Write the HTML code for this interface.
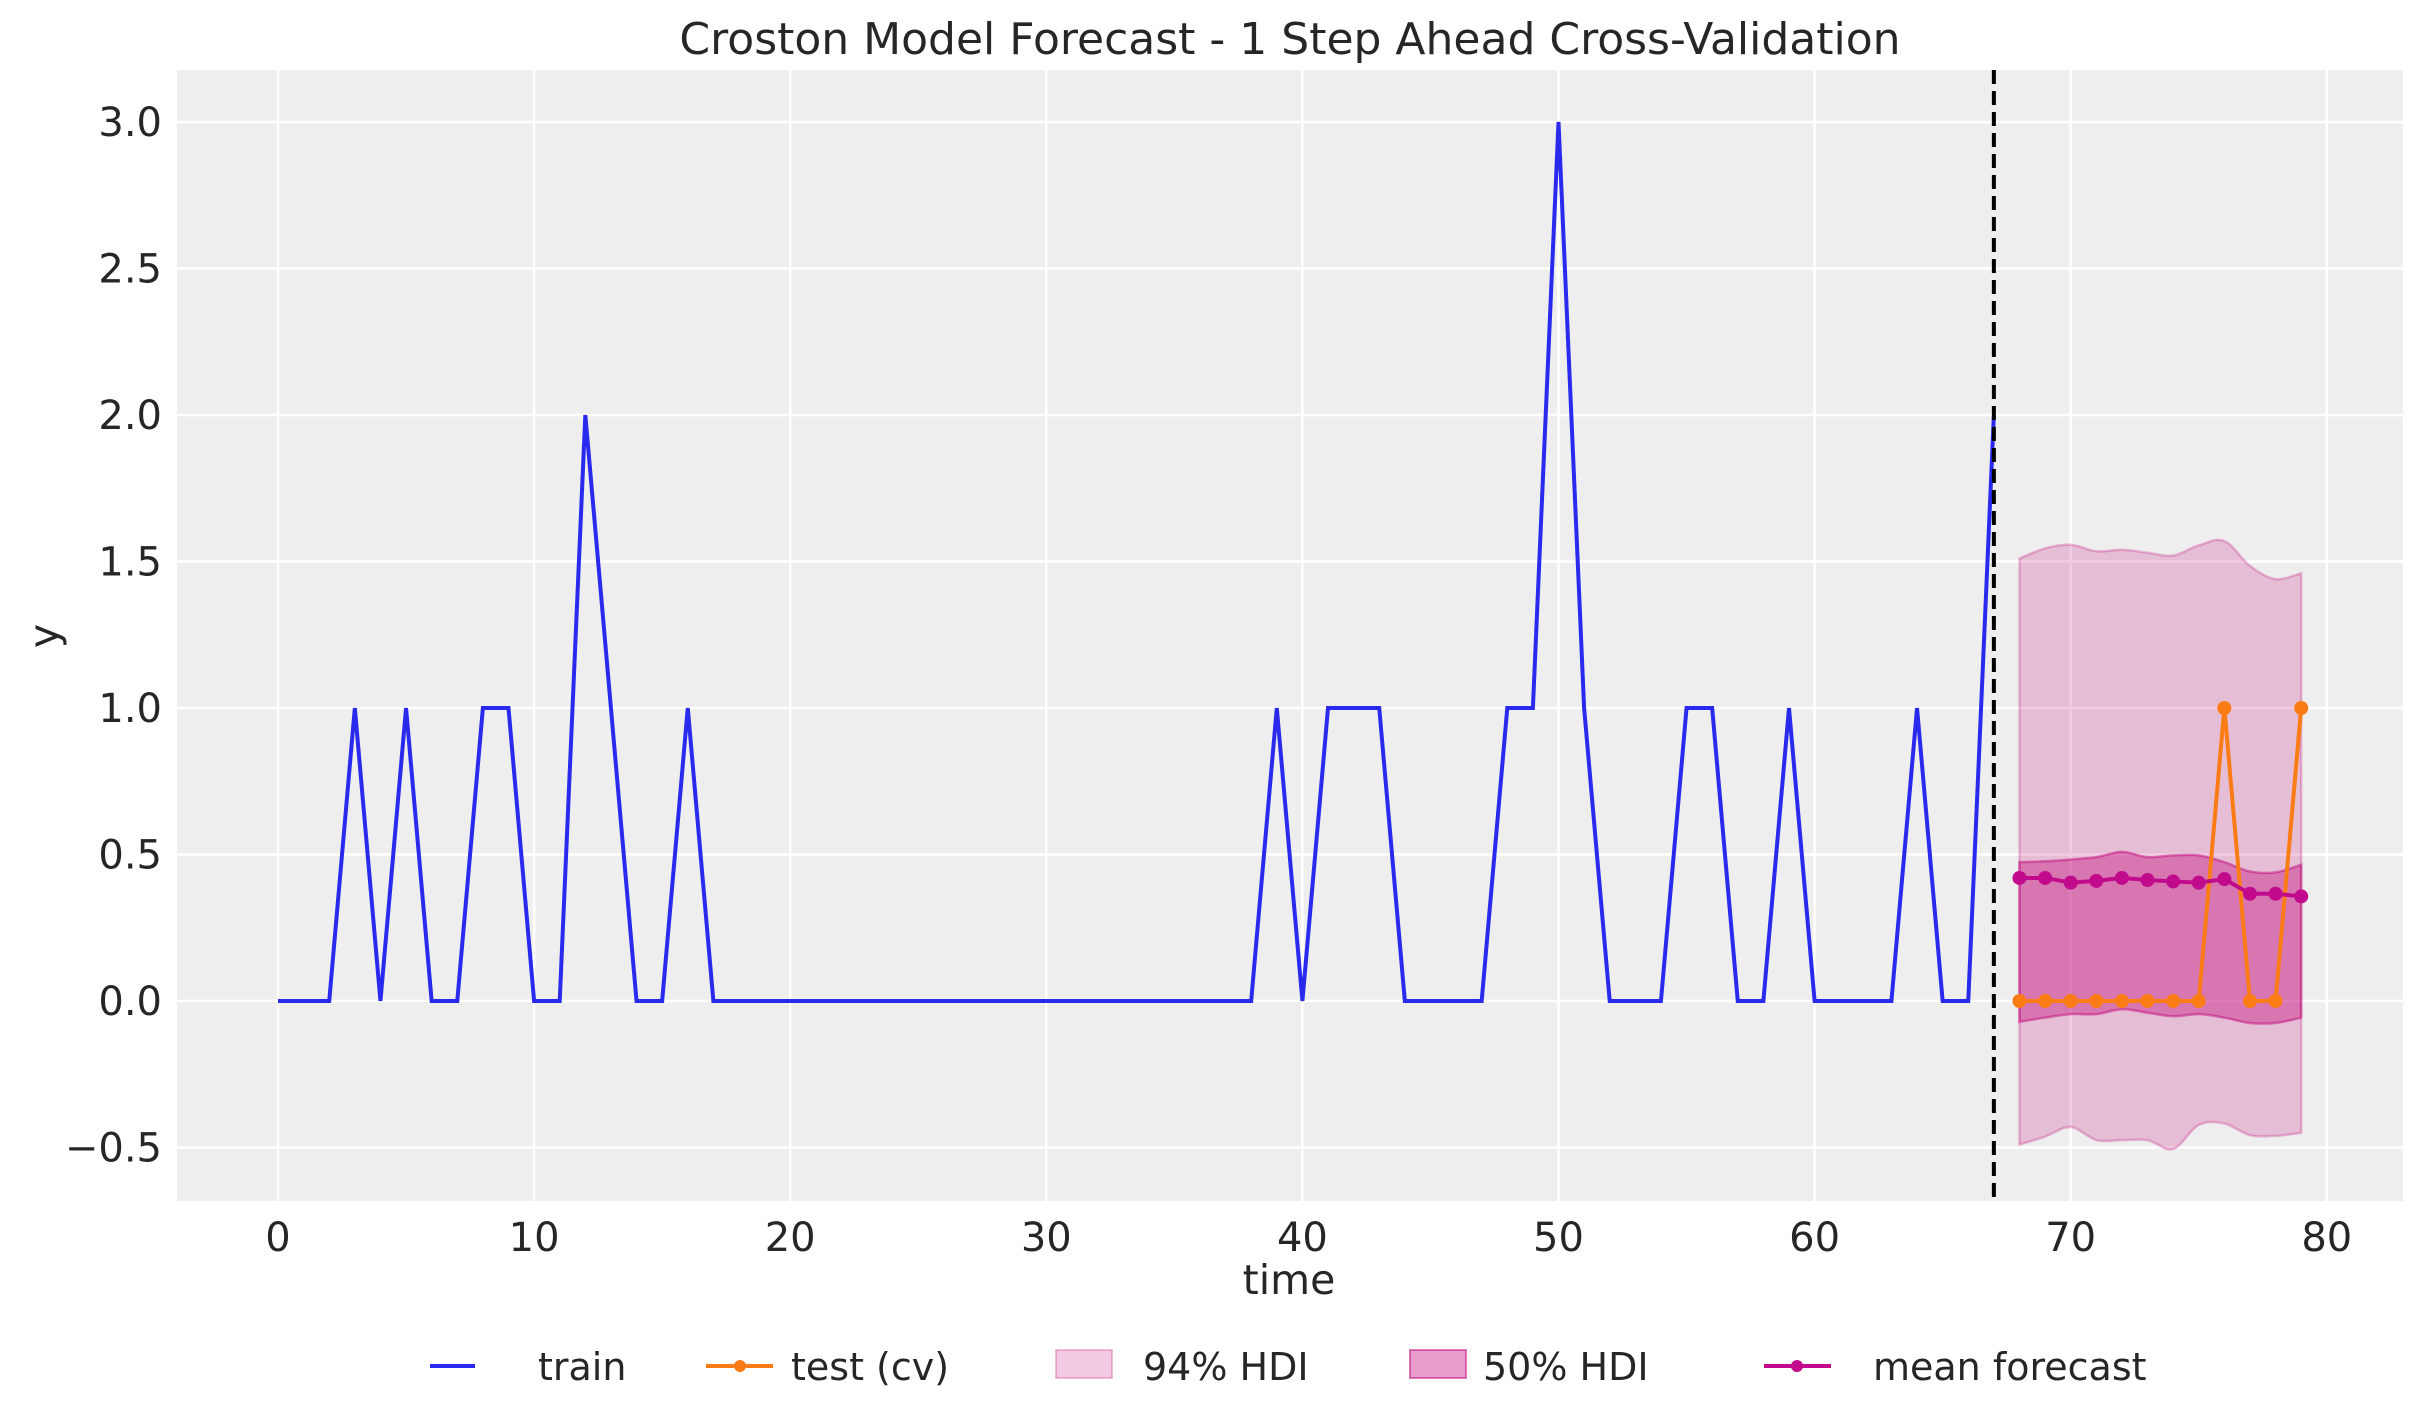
<!DOCTYPE html>
<html><head><meta charset="utf-8">
<style>
html,body{margin:0;padding:0;background:#fff;}
svg{display:block;font-family:"DejaVu Sans","Liberation Sans",sans-serif;}
</style></head>
<body>
<svg id="chart" width="2423" height="1423" viewBox="0 0 2423 1423" xmlns="http://www.w3.org/2000/svg">
<text x="1290" y="54" font-size="44" text-anchor="middle" fill="#262626">Croston Model Forecast - 1 Step Ahead Cross-Validation</text>
<rect x="177" y="70" width="2226" height="1131" fill="#eeeeee"/>
<g id="grid"></g>
<g id="ticks"></g>
<g id="series"></g>
<text x="1289" y="1294" font-size="41" text-anchor="middle" fill="#262626">time</text>
<text x="0" y="0" font-size="41" text-anchor="middle" fill="#262626" transform="translate(58,636) rotate(-90)">y</text>
<g id="legend">
  <g>
    <line x1="430" y1="1366" x2="475" y2="1366" stroke="#2a2aee" stroke-width="4"/>
    <text x="538" y="1380" font-size="38" fill="#262626">train</text>
  </g>
  <g>
    <line x1="706" y1="1366" x2="773" y2="1366" stroke="#fb7c14" stroke-width="4"/>
    <circle cx="740" cy="1366" r="6" fill="#fb7c14"/>
    <text x="791" y="1380" font-size="38" fill="#262626">test (cv)</text>
  </g>
  <g>
    <rect x="1056" y="1350" width="56" height="28" fill="#c20078" fill-opacity="0.2" stroke="#c20078" stroke-opacity="0.25" stroke-width="2"/>
    <text x="1143" y="1380" font-size="38" fill="#262626">94% HDI</text>
  </g>
  <g>
    <rect x="1410" y="1350" width="56" height="28" fill="#c20078" fill-opacity="0.38" stroke="#c20078" stroke-opacity="0.5" stroke-width="2"/>
    <text x="1483" y="1380" font-size="38" fill="#262626">50% HDI</text>
  </g>
  <g>
    <line x1="1764" y1="1366" x2="1831" y2="1366" stroke="#c20a8c" stroke-width="4"/>
    <circle cx="1797" cy="1366" r="6" fill="#c20a8c"/>
    <text x="1873" y="1380" font-size="38" fill="#262626">mean forecast</text>
  </g>
</g>
</svg>
<script>
const trainY = [0,0,0,1,0,1,0,0,1,1,0,0,2,1,0,0,1,0,0,0,0,0,0,0,0,0,0,0,0,0,0,0,0,0,0,0,0,0,0,1,0,1,1,1,0,0,0,0,1,1,3,1,0,0,0,1,1,0,0,1,0,0,0,0,1,0,0,2];
const testX = [68,69,70,71,72,73,74,75,76,77,78,79];
const testY = [0,0,0,0,0,0,0,0,1,0,0,1];
const meanY = [0.42,0.42,0.404,0.41,0.42,0.413,0.408,0.404,0.416,0.366,0.366,0.357];
const hdi94Hi = [1.51,1.545,1.557,1.535,1.54,1.53,1.52,1.555,1.57,1.485,1.44,1.46];
const hdi94Lo = [-0.49,-0.463,-0.43,-0.475,-0.475,-0.475,-0.505,-0.423,-0.418,-0.458,-0.46,-0.45];
const hdi50Hi = [0.474,0.477,0.483,0.491,0.509,0.491,0.497,0.497,0.474,0.442,0.439,0.465];
const hdi50Lo = [-0.071,-0.057,-0.045,-0.045,-0.028,-0.04,-0.052,-0.045,-0.057,-0.075,-0.075,-0.057];
const xTicks = [0,10,20,30,40,50,60,70,80];
const yTicks = [-0.5,0,0.5,1,1.5,2,2.5,3];
const cutoff = 67;

const NS="http://www.w3.org/2000/svg";
const X = v => 278 + v*25.61;
const Y = v => 1001 - v*293;
function mk(tag, attrs, parent){const e=document.createElementNS(NS,tag);for(const k in attrs)e.setAttribute(k,attrs[k]);parent.appendChild(e);return e;}
const grid=document.getElementById('grid'), ticks=document.getElementById('ticks'), series=document.getElementById('series');

xTicks.forEach(t=>{
  const l=mk('line',{x1:X(t),x2:X(t),y1:70,y2:1201,stroke:'#fff','stroke-width':2.5},grid);
  
  
  const tx=mk('text',{x:X(t),y:1251,'font-size':40,'text-anchor':'middle',fill:'#262626'},ticks);
  tx.textContent=String(t);
  
  
});
yTicks.forEach(t=>{
  const l=mk('line',{x1:177,x2:2403,y1:Y(t),y2:Y(t),stroke:'#fff','stroke-width':2.5},grid);
  
  
  const tx=mk('text',{x:162,y:Y(t)+14,'font-size':40,'text-anchor':'end',fill:'#262626'},ticks);
  tx.textContent=(t<0?'\u2212':'')+Math.abs(t).toFixed(1);
  
  
});

function smooth(pts){
  let d='';
  for(let i=0;i<pts.length-1;i++){
    const p0=pts[Math.max(0,i-1)],p1=pts[i],p2=pts[i+1],p3=pts[Math.min(pts.length-1,i+2)];
    const c1=[p1[0]+(p2[0]-p0[0])/6,p1[1]+(p2[1]-p0[1])/6];
    const c2=[p2[0]-(p3[0]-p1[0])/6,p2[1]-(p3[1]-p1[1])/6];
    d+=' C'+c1[0]+','+c1[1]+' '+c2[0]+','+c2[1]+' '+p2[0]+','+p2[1];
  }
  return d;
}
function band(hi,lo,op,sop,name){
  const top=testX.map((x,i)=>[X(x),Y(hi[i])]);
  const bot=testX.map((x,i)=>[X(x),Y(lo[i])]).reverse();
  const d='M'+top[0][0]+','+top[0][1]+smooth(top)+' L'+bot[0][0]+','+bot[0][1]+smooth(bot)+' Z';
  const p=mk('path',{d:d,fill:'#c20078','fill-opacity':op,stroke:'#c20078','stroke-opacity':sop,'stroke-width':2.5},series);
  
  
}
band(hdi94Hi,hdi94Lo,0.2,0.25,'hdi-94-band');
band(hdi50Hi,hdi50Lo,0.38,0.45,'hdi-50-band');

const tr=mk('polyline',{points:trainY.map((v,i)=>X(i)+','+Y(v)).join(' '),fill:'none',stroke:'#2a2aee','stroke-width':4,'stroke-linejoin':'miter'},series);



const vl=mk('line',{x1:X(cutoff),x2:X(cutoff),y1:70,y2:1201,stroke:'#000','stroke-width':4,'stroke-dasharray':'14,7'},series);



function dotLine(ys,color,name){
  const pl=mk('polyline',{points:testX.map((x,i)=>X(x)+','+Y(ys[i])).join(' '),fill:'none',stroke:color,'stroke-width':4},series);
  
  
  testX.forEach((x,i)=>{
    const c=mk('circle',{cx:X(x),cy:Y(ys[i]),r:7,fill:color},series);
    
    
  });
}
dotLine(testY,'#fb7c14','test');
dotLine(meanY,'#c20a8c','mean-forecast');
</script>
</body></html>
